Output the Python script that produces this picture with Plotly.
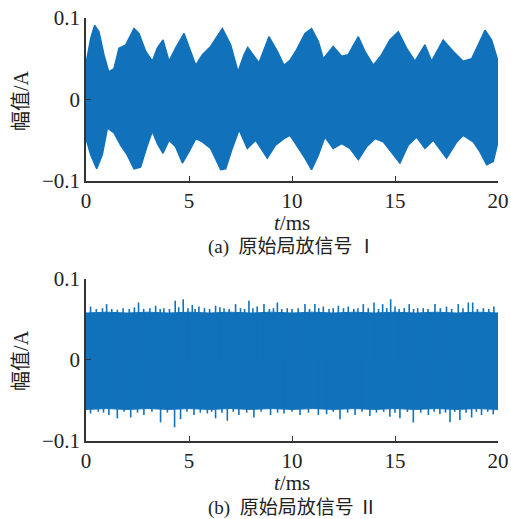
import plotly.graph_objects as go

# ---------------- Panel (a): envelope of original PD signal I ----------------
t_a_up = [0, 0.23, 0.42, 0.63, 0.87, 1.1, 1.36, 1.6, 1.93, 2.33, 2.57, 2.9, 3.22, 3.46,
          3.74, 4.03, 4.35, 4.76, 5.08, 5.33, 5.65, 6.05, 6.62, 7.02, 7.38, 7.67, 7.85,
          8.4, 8.88, 9.29, 9.61, 9.9, 10.22, 10.63, 10.95, 11.28, 11.52, 12.0, 12.41,
          12.73, 13.22, 13.54, 13.95, 14.35, 14.75, 15.16, 15.56, 15.97, 16.45, 16.78,
          17.34, 17.83, 18.31, 18.72, 19.04, 19.37, 19.69, 20]
upper_a = [0.044, 0.075, 0.091, 0.083, 0.055, 0.034, 0.038, 0.063, 0.067, 0.087, 0.081,
           0.059, 0.047, 0.063, 0.073, 0.047, 0.063, 0.081, 0.059, 0.042, 0.055, 0.065,
           0.087, 0.067, 0.034, 0.055, 0.064, 0.045, 0.077, 0.059, 0.042, 0.048, 0.061,
           0.081, 0.087, 0.071, 0.050, 0.065, 0.053, 0.055, 0.077, 0.059, 0.042, 0.055,
           0.073, 0.083, 0.063, 0.047, 0.067, 0.047, 0.073, 0.059, 0.047, 0.050, 0.067,
           0.085, 0.073, 0.047]
t_a_lo = [0, 0.23, 0.52, 0.79, 1.04, 1.36, 1.68, 2.0, 2.33, 2.65, 2.98, 3.22, 3.46, 3.74,
          4.03, 4.35, 4.68, 5.0, 5.33, 5.65, 6.05, 6.54, 6.78, 7.1, 7.43, 7.83, 8.24, 8.8,
          9.2, 9.61, 9.9, 10.22, 10.63, 10.95, 11.28, 11.6, 12.0, 12.41, 12.81, 13.22,
          13.62, 14.03, 14.43, 14.92, 15.24, 15.64, 16.05, 16.45, 16.86, 17.5, 18.0, 18.31,
          18.8, 19.12, 19.45, 19.77, 20]
lower_a = [-0.048, -0.068, -0.085, -0.068, -0.035, -0.041, -0.056, -0.068, -0.085, -0.083,
           -0.056, -0.039, -0.054, -0.066, -0.050, -0.058, -0.078, -0.064, -0.048, -0.052,
           -0.060, -0.086, -0.085, -0.060, -0.037, -0.060, -0.050, -0.072, -0.056, -0.048,
           -0.044, -0.056, -0.072, -0.086, -0.068, -0.046, -0.060, -0.054, -0.060, -0.074,
           -0.058, -0.048, -0.052, -0.068, -0.078, -0.056, -0.046, -0.060, -0.050, -0.072,
           -0.052, -0.044, -0.052, -0.064, -0.080, -0.076, -0.052]

# ---------------- Panel (b): original PD signal II ----------------
t_b = [0, 1, 2, 3, 4, 5, 6, 7, 8, 9, 10, 11, 12, 13, 14, 15, 16, 17, 18, 19, 20]
upper_b = [0.058, 0.059, 0.058, 0.059, 0.058, 0.059, 0.058, 0.059, 0.058, 0.059, 0.058,
           0.059, 0.058, 0.059, 0.058, 0.059, 0.058, 0.059, 0.058, 0.059, 0.058]
lower_b = [-0.061, -0.060, -0.061, -0.060, -0.061, -0.060, -0.061, -0.060, -0.061, -0.060,
           -0.061, -0.060, -0.061, -0.060, -0.061, -0.060, -0.061, -0.060, -0.061, -0.060,
           -0.061]

spike_up_t = [0.22, 0.5, 0.8, 1.0, 1.25, 1.52, 1.8, 2.1, 2.35, 2.55, 2.8, 3.1, 3.38, 3.6,
              3.78, 4.05, 4.33, 4.5, 4.72, 4.95, 5.16, 5.3, 5.48, 5.75, 6.0, 6.29, 6.5,
              6.7, 6.95, 7.26, 7.5, 7.7, 7.91, 8.1, 8.31, 8.64, 8.9, 9.1, 9.29, 9.5, 9.77,
              10.0, 10.3, 10.63, 10.85, 11.11, 11.3, 11.52, 11.8, 12.0, 12.25, 12.5, 12.73,
              13.0, 13.2, 13.46, 13.7, 13.98, 14.2, 14.4, 14.6, 14.79, 15.0, 15.2, 15.45,
              15.69, 15.9, 16.1, 16.37, 16.6, 16.94, 17.2, 17.5, 17.75, 18.07, 18.3, 18.56,
              18.77, 19.0, 19.29, 19.55, 19.8]
spike_up_v = [0.066, 0.063, 0.064, 0.069, 0.063, 0.062, 0.064, 0.063, 0.065, 0.071, 0.063,
              0.064, 0.067, 0.063, 0.064, 0.063, 0.073, 0.065, 0.075, 0.064, 0.068, 0.063,
              0.066, 0.064, 0.063, 0.067, 0.065, 0.064, 0.063, 0.069, 0.064, 0.063, 0.073,
              0.064, 0.066, 0.069, 0.063, 0.064, 0.071, 0.063, 0.064, 0.063, 0.064, 0.069,
              0.063, 0.069, 0.064, 0.066, 0.063, 0.064, 0.067, 0.064, 0.066, 0.063, 0.064,
              0.069, 0.064, 0.071, 0.063, 0.069, 0.064, 0.075, 0.066, 0.063, 0.064, 0.069,
              0.063, 0.064, 0.064, 0.063, 0.069, 0.064, 0.066, 0.063, 0.069, 0.064, 0.071,
              0.071, 0.063, 0.064, 0.063, 0.066]
spike_lo_t = [0.22, 0.6, 0.85, 1.11, 1.52, 1.85, 2.17, 2.5, 2.81, 3.2, 3.62, 3.95, 4.3,
              4.59, 4.9, 5.24, 5.55, 5.89, 6.1, 6.29, 6.6, 6.86, 7.15, 7.42, 7.8, 8.15,
              8.5, 8.96, 9.3, 9.61, 10.0, 10.39, 10.8, 11.28, 11.68, 12.0, 12.33, 12.7,
              13.06, 13.4, 13.78, 14.1, 14.45, 14.75, 15.0, 15.24, 15.6, 15.89, 16.25,
              16.62, 16.9, 17.18, 17.45, 17.67, 17.9, 18.15, 18.45, 18.72, 18.95, 19.2,
              19.5, 19.77]
spike_lo_v = [-0.066, -0.064, -0.065, -0.068, -0.072, -0.064, -0.071, -0.065, -0.068,
              -0.064, -0.077, -0.065, -0.083, -0.073, -0.064, -0.068, -0.065, -0.066,
              -0.064, -0.072, -0.065, -0.075, -0.064, -0.068, -0.065, -0.071, -0.064,
              -0.068, -0.065, -0.066, -0.064, -0.068, -0.065, -0.068, -0.067, -0.064,
              -0.073, -0.065, -0.068, -0.064, -0.069, -0.065, -0.064, -0.070, -0.065,
              -0.072, -0.064, -0.077, -0.065, -0.068, -0.064, -0.067, -0.065, -0.077,
              -0.064, -0.074, -0.065, -0.071, -0.064, -0.068, -0.064, -0.067]

x_ticks = [0, 5, 10, 15, 20]
y_ticks = [-0.1, 0, 0.1]
y_ticktext = ["\u22120.1", "0", "0.1"]
captions = ["(a)  原始局放信号 \u2160", "(b)  原始局放信号 \u2161"]

BLUE = "#1172BB"
SERIF = "'Liberation Serif', 'Times New Roman', serif"
MIX = "'Liberation Serif', 'Noto Sans CJK SC', serif"

fig = go.Figure()

fig.add_trace(go.Scatter(
    x=t_a_up + t_a_lo[::-1], y=upper_a + lower_a[::-1], fill="toself", mode="lines",
    line=dict(color=BLUE, width=1.5), fillcolor=BLUE, xaxis="x", yaxis="y",
    showlegend=False, hoverinfo="skip"))

fig.add_trace(go.Scatter(
    x=t_b + t_b[::-1], y=upper_b + lower_b[::-1], fill="toself", mode="lines",
    line=dict(color=BLUE, width=1), fillcolor=BLUE, xaxis="x2", yaxis="y2",
    showlegend=False, hoverinfo="skip"))

sx, sy = [], []
for t, v in zip(spike_up_t, spike_up_v):
    sx += [t, t, None]
    sy += [0, v, None]
for t, v in zip(spike_lo_t, spike_lo_v):
    sx += [t, t, None]
    sy += [0, v, None]
fig.add_trace(go.Scatter(x=sx, y=sy, mode="lines", line=dict(color=BLUE, width=1.6),
                         xaxis="x2", yaxis="y2", showlegend=False, hoverinfo="skip"))

axis_common = dict(showline=True, linecolor="#333333", linewidth=1.5, ticks="inside",
                   ticklen=5, tickwidth=1.2, tickcolor="#333333", showgrid=False,
                   zeroline=False, mirror=False, automargin=False,
                   tickfont=dict(family=SERIF, size=21, color="#222222"))

fig.update_layout(
    width=511, height=519, paper_bgcolor="white", plot_bgcolor="white",
    margin=dict(l=86, r=13, t=18, b=78, autoexpand=False),
    xaxis=dict(domain=[0, 1], range=[0, 20], tickvals=x_ticks, anchor="y", **axis_common),
    yaxis=dict(domain=[0.6147, 1], range=[-0.1, 0.1], tickvals=y_ticks,
               ticktext=y_ticktext, anchor="x", **axis_common),
    xaxis2=dict(domain=[0, 1], range=[0, 20], tickvals=x_ticks, anchor="y2", **axis_common),
    yaxis2=dict(domain=[0, 0.383], range=[-0.1, 0.1], tickvals=y_ticks,
                ticktext=y_ticktext, anchor="x2", **axis_common),
)

ann = []
for ylab, yx in [(0.806, 0.5165), (0.1915, -0.0985)]:
    ann.append(dict(text="幅值/A", x=-0.158, y=ylab, xref="paper", yref="paper",
                    textangle=-90, showarrow=False, xanchor="center", yanchor="middle",
                    font=dict(family=MIX, size=20, color="#222222")))
    ann.append(dict(text="<i>t</i>/ms", x=0.5, y=yx, xref="paper", yref="paper",
                    showarrow=False, xanchor="center", yanchor="middle",
                    font=dict(family=SERIF, size=21, color="#222222")))
for cap, ycap in zip(captions, [0.4586, -0.158]):
    ann.append(dict(text=cap, x=0.5, y=ycap, xref="paper", yref="paper",
                    showarrow=False, xanchor="center", yanchor="middle",
                    font=dict(family=MIX, size=19, color="#222222")))
fig.update_layout(annotations=ann)

fig.write_html("out.html", config={"displayModeBar": False},
               post_script="document.body.style.margin='0px';document.body.style.overflow='hidden';")
